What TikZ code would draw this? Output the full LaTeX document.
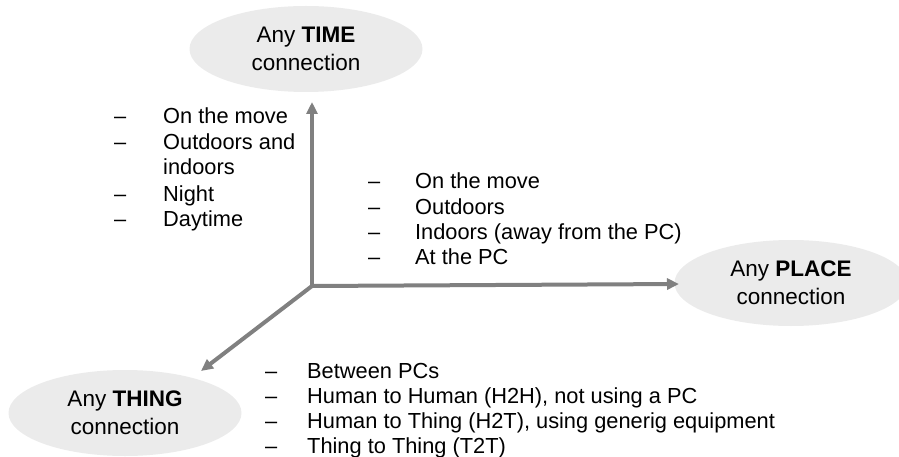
\documentclass[tikz,border=0pt]{standalone}
\usepackage{fontspec}
\setmainfont{Liberation Sans}
\usetikzlibrary{arrows.meta, shapes.geometric}

\begin{document}
\begin{tikzpicture}[x=1pt, y=-1pt,
    axis/.style={draw=black!50, line width=4pt, -{Triangle[length=12pt, width=11pt]}},
    any node/.style={ellipse, fill=black!8, inner sep=0pt, minimum width=233pt, minimum height=86pt, align=center, font=\fontsize{22.5}{28}\selectfont},
    item list/.style={anchor=base west, inner sep=0pt, font=\fontsize{21.8}{25.2}\selectfont}]
    \useasboundingbox (0,0) rectangle (899,457);

    \node[any node] (time) at (306,49) {Any \textbf{TIME}\\connection};
    \node[any node] (place) at (791,283) {Any \textbf{PLACE}\\connection};
    \node[any node] (thing) at (125,413) {Any \textbf{THING}\\connection};

    \coordinate (o) at (312,286);
    \coordinate (time end) at (312,102);
    \coordinate (place end) at (679,284);
    \coordinate (thing end) at (201,371);

    \draw[axis] (o) -- (time end);
    \draw[axis] (o) -- (place end);
    \draw[axis] (o) -- (thing end);

    \node[item list] (time list) at (114,124) {\begin{tabular}[t]{@{}p{49pt}@{}l@{}}
        -- & On the move\\
        -- & Outdoors and\\
           & indoors\\[1.5pt]
        -- & Night\\
        -- & Daytime
    \end{tabular}};
    \node[item list] (place list) at (368,189) {\begin{tabular}[t]{@{}p{47pt}@{}l@{}}
        -- & On the move\\
        -- & Outdoors\\
        -- & Indoors (away from the PC)\\
        -- & At the PC
    \end{tabular}};
    \node[item list] (thing list) at (265,378) {\begin{tabular}[t]{@{}p{42pt}@{}l@{}}
        -- & Between PCs\\
        -- & Human to Human (H2H), not using a PC\\
        -- & Human to Thing (H2T), using generig equipment\\
        -- & Thing to Thing (T2T)
    \end{tabular}};
\end{tikzpicture}
\end{document}
